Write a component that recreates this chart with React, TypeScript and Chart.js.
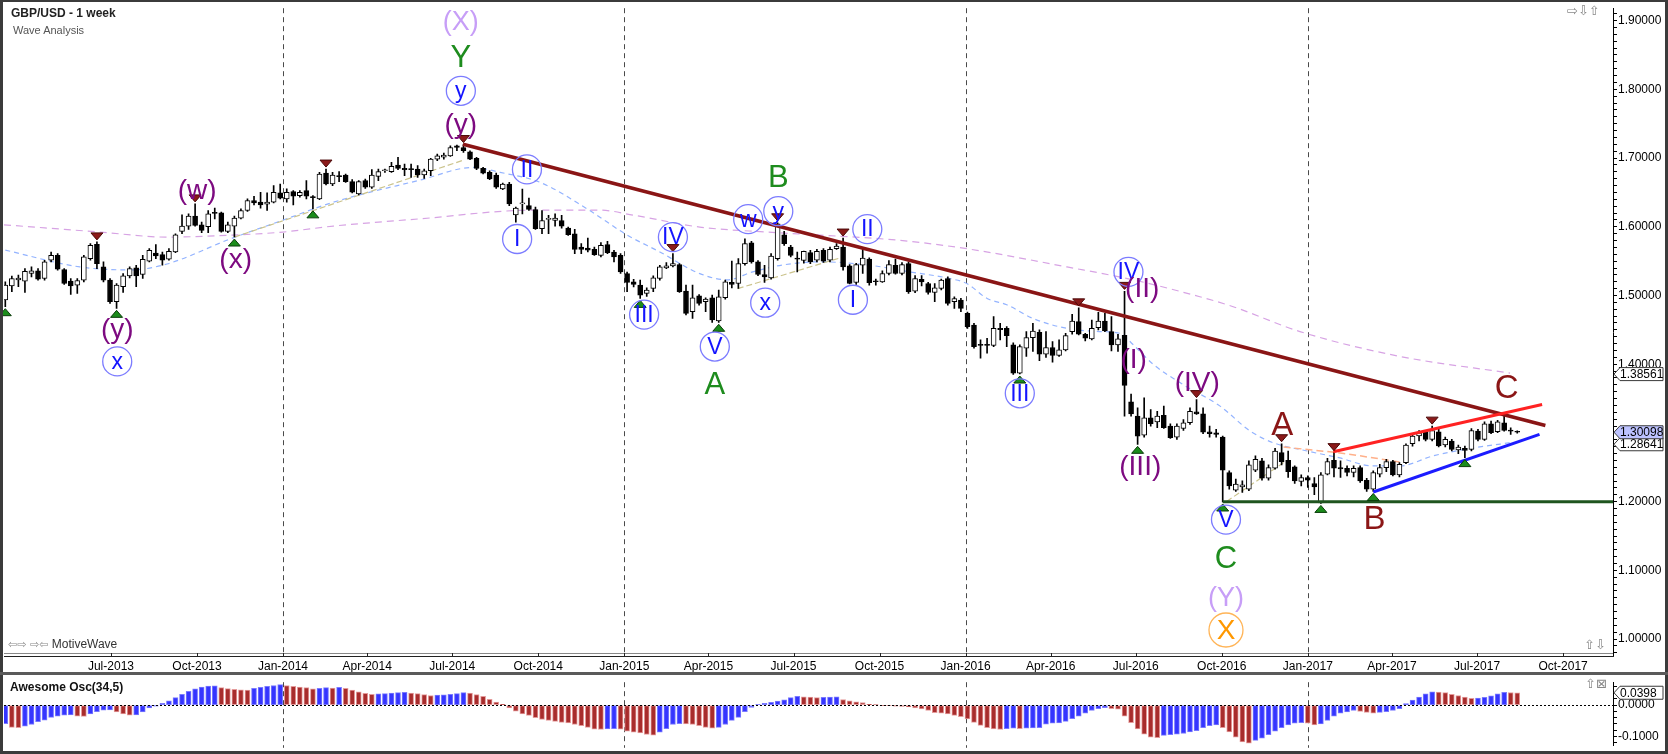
import React, { useEffect, useRef } from 'react';
import { Chart, registerables } from 'chart.js';
Chart.register(...registerables);

const FONT = '"Liberation Sans", Arial, Helvetica, sans-serif';

// ---------- weekly candles (week 0 = week starting 10 Mar 2013) ----------
const OPEN = [
  1.4934, 1.5141, 1.5228, 1.5209, 1.5320, 1.5358, 1.5247, 1.5513, 1.5585, 1.5378,
  1.5209, 1.5151, 1.5223, 1.5537, 1.5745, 1.5416, 1.5223, 1.4910, 1.5127, 1.5286,
  1.5402, 1.5305, 1.5498, 1.5619, 1.5595, 1.5527, 1.5633, 1.5933, 1.6010, 1.6155,
  1.6029, 1.6001, 1.6203, 1.6203, 1.5933, 1.6010, 1.6126, 1.6237, 1.6382, 1.6358,
  1.6329, 1.6358, 1.6493, 1.6406, 1.6512, 1.6454, 1.6527, 1.6430, 1.6406, 1.6782,
  1.6623, 1.6739, 1.6753, 1.6657, 1.6478, 1.6671, 1.6575, 1.6734, 1.6816, 1.6802,
  1.6898, 1.6850, 1.6845, 1.6840, 1.6753, 1.6816, 1.6985, 1.7014, 1.7033, 1.7178,
  1.7154, 1.7091, 1.6995, 1.6850, 1.6792, 1.6753, 1.6551, 1.6623, 1.6174, 1.6333,
  1.6309, 1.6251, 1.5971, 1.6107, 1.6092, 1.6092, 1.5981, 1.5899, 1.5706, 1.5691,
  1.5672, 1.5585, 1.5740, 1.5633, 1.5585, 1.5319, 1.5199, 1.5150, 1.5030, 1.5102,
  1.5247, 1.5401, 1.5430, 1.5450, 1.5064, 1.4764, 1.4996, 1.4909, 1.4967, 1.4630,
  1.4967, 1.5190, 1.5175, 1.5465, 1.5768, 1.5489, 1.5305, 1.5257, 1.5537, 1.5884,
  1.5706, 1.5546, 1.5512, 1.5624, 1.5513, 1.5657, 1.5513, 1.5682, 1.5706, 1.5431,
  1.5189, 1.5440, 1.5530, 1.5210, 1.5199, 1.5320, 1.5440, 1.5320, 1.5464, 1.5064,
  1.5237, 1.5175, 1.5044, 1.5102, 1.5247, 1.4909, 1.4933, 1.4740, 1.4571, 1.4291,
  1.4291, 1.4272, 1.4523, 1.4523, 1.4281, 1.3871, 1.4233, 1.4387, 1.4465, 1.4146,
  1.4243, 1.4127, 1.4209, 1.4475, 1.4620, 1.4436, 1.4368, 1.4533, 1.4629, 1.4475,
  1.4281, 1.4420, 1.3451, 1.3244, 1.2968, 1.3220, 1.3162, 1.3258, 1.3099, 1.2940,
  1.3065, 1.3148, 1.3307, 1.3278, 1.3017, 1.3003, 1.2940, 1.2423, 1.2167, 1.2216,
  1.2182, 1.2457, 1.2593, 1.2341, 1.2486, 1.2713, 1.2602, 1.2505, 1.2293, 1.2351,
  1.2264, 1.1983, 1.2400, 1.2602, 1.2496, 1.2486, 1.2424, 1.2496, 1.2312, 1.2182,
  1.2400, 1.2496, 1.2583, 1.2390, 1.2568, 1.2843, 1.2955, 1.3017, 1.2906, 1.3017,
  1.2824, 1.2882, 1.2752, 1.2776, 1.2761, 1.3027, 1.2906, 1.3133, 1.3017, 1.3148,
  1.3036, 1.3015,
];
const HIGH = [
  1.5199, 1.5281, 1.5296, 1.5392, 1.5416, 1.5392, 1.5513, 1.5633, 1.5609, 1.5392,
  1.5247, 1.5247, 1.5585, 1.5754, 1.5780, 1.5489, 1.5247, 1.5175, 1.5320, 1.5416,
  1.5440, 1.5585, 1.5682, 1.5740, 1.5633, 1.5682, 1.5899, 1.6174, 1.6189, 1.6333,
  1.6068, 1.6237, 1.6271, 1.6213, 1.6068, 1.6155, 1.6261, 1.6406, 1.6445, 1.6502,
  1.6493, 1.6599, 1.6623, 1.6551, 1.6527, 1.6527, 1.6671, 1.6454, 1.6792, 1.6840,
  1.6792, 1.6802, 1.6768, 1.6686, 1.6671, 1.6695, 1.6831, 1.6840, 1.6840, 1.6937,
  1.7009, 1.6913, 1.6913, 1.6889, 1.6840, 1.6995, 1.7057, 1.7072, 1.7178, 1.7188,
  1.7197, 1.7106, 1.7009, 1.6864, 1.6816, 1.6782, 1.6637, 1.6647, 1.6285, 1.6550,
  1.6416, 1.6285, 1.6237, 1.6165, 1.6189, 1.6165, 1.5996, 1.5962, 1.5754, 1.5836,
  1.5706, 1.5769, 1.5788, 1.5657, 1.5610, 1.5340, 1.5237, 1.5223, 1.5112, 1.5286,
  1.5440, 1.5479, 1.5610, 1.5464, 1.5150, 1.5150, 1.5015, 1.4967, 1.5006, 1.5078,
  1.5223, 1.5500, 1.5537, 1.5826, 1.5790, 1.5510, 1.5440, 1.5609, 1.6058, 1.5933,
  1.5730, 1.5633, 1.5648, 1.5657, 1.5672, 1.5682, 1.5706, 1.5754, 1.5836, 1.5450,
  1.5470, 1.5672, 1.5550, 1.5240, 1.5360, 1.5510, 1.5530, 1.5480, 1.5490, 1.5290,
  1.5290, 1.5190, 1.5175, 1.5240, 1.5270, 1.4981, 1.4960, 1.4760, 1.4595, 1.4354,
  1.4378, 1.4692, 1.4595, 1.4547, 1.4310, 1.4281, 1.4475, 1.4595, 1.4500, 1.4475,
  1.4330, 1.4354, 1.4450, 1.4726, 1.4820, 1.4450, 1.4644, 1.4755, 1.4740, 1.4692,
  1.4436, 1.5060, 1.3567, 1.3365, 1.3510, 1.3340, 1.3316, 1.3389, 1.3133, 1.3133,
  1.3196, 1.3365, 1.3485, 1.3365, 1.3099, 1.3051, 1.2954, 1.2447, 1.2327, 1.2303,
  1.2593, 1.2665, 1.2631, 1.2535, 1.2776, 1.2843, 1.2737, 1.2520, 1.2390, 1.2375,
  1.2351, 1.2423, 1.2631, 1.2713, 1.2593, 1.2520, 1.2520, 1.2520, 1.2341, 1.2448,
  1.2544, 1.2617, 1.2602, 1.2568, 1.2843, 1.2988, 1.3036, 1.3036, 1.3099, 1.3051,
  1.2940, 1.2906, 1.2824, 1.2810, 1.3065, 1.3051, 1.3162, 1.3172, 1.3182, 1.3268,
  1.3075, 1.3030,
];
const LOW = [
  1.4837, 1.5054, 1.5127, 1.5045, 1.5271, 1.5223, 1.5223, 1.5489, 1.5368, 1.5160,
  1.5016, 1.5030, 1.5199, 1.5513, 1.5392, 1.5199, 1.4885, 1.4813, 1.5045, 1.5257,
  1.5127, 1.5247, 1.5489, 1.5537, 1.5440, 1.5513, 1.5624, 1.5899, 1.5962, 1.6010,
  1.5914, 1.5914, 1.6116, 1.5923, 1.5914, 1.5851, 1.6116, 1.6223, 1.6319, 1.6271,
  1.6237, 1.6348, 1.6406, 1.6358, 1.6319, 1.6430, 1.6406, 1.6261, 1.6396, 1.6609,
  1.6599, 1.6657, 1.6647, 1.6493, 1.6464, 1.6560, 1.6560, 1.6671, 1.6792, 1.6792,
  1.6831, 1.6744, 1.6719, 1.6719, 1.6705, 1.6744, 1.6961, 1.6985, 1.7024, 1.7106,
  1.7081, 1.6975, 1.6831, 1.6768, 1.6686, 1.6560, 1.6541, 1.6309, 1.6068, 1.6189,
  1.6237, 1.5962, 1.5899, 1.5899, 1.6010, 1.5981, 1.5875, 1.5609, 1.5609, 1.5633,
  1.5585, 1.5561, 1.5609, 1.5489, 1.5320, 1.5054, 1.5126, 1.4958, 1.4985, 1.5054,
  1.5223, 1.5392, 1.5416, 1.5044, 1.4716, 1.4668, 1.4861, 1.4764, 1.4610, 1.4610,
  1.4948, 1.5110, 1.5102, 1.5440, 1.5470, 1.5290, 1.5189, 1.5237, 1.5513, 1.5730,
  1.5561, 1.5344, 1.5470, 1.5465, 1.5489, 1.5480, 1.5489, 1.5672, 1.5368, 1.5170,
  1.5160, 1.5320, 1.5150, 1.5150, 1.5190, 1.5300, 1.5310, 1.5300, 1.5030, 1.5040,
  1.5140, 1.5020, 1.4909, 1.5080, 1.4860, 1.4813, 1.4765, 1.4520, 1.4233, 1.4088,
  1.4161, 1.4257, 1.4354, 1.4257, 1.3850, 1.3857, 1.4112, 1.4185, 1.4050, 1.4098,
  1.4030, 1.4112, 1.4195, 1.4436, 1.4425, 1.4340, 1.4354, 1.4500, 1.4475, 1.4195,
  1.4185, 1.3244, 1.3244, 1.2834, 1.2940, 1.3100, 1.3075, 1.3065, 1.2920, 1.2906,
  1.3036, 1.3123, 1.3268, 1.2989, 1.2940, 1.2940, 1.1995, 1.2182, 1.2148, 1.2134,
  1.2158, 1.2438, 1.2312, 1.2312, 1.2472, 1.2535, 1.2351, 1.2264, 1.2230, 1.2206,
  1.2100, 1.1974, 1.2390, 1.2361, 1.2351, 1.2375, 1.2361, 1.2279, 1.2148, 1.2148,
  1.2361, 1.2438, 1.2375, 1.2361, 1.2554, 1.2809, 1.2882, 1.2882, 1.2882, 1.2795,
  1.2795, 1.2737, 1.2699, 1.2641, 1.2737, 1.2882, 1.2892, 1.2988, 1.3003, 1.3027,
  1.2979, 1.2995,
];
const CLOSE = [
  1.5151, 1.5247, 1.5252, 1.5353, 1.5358, 1.5237, 1.5489, 1.5585, 1.5382, 1.5175,
  1.5141, 1.5218, 1.5561, 1.5730, 1.5465, 1.5223, 1.4910, 1.5151, 1.5286, 1.5392,
  1.5286, 1.5527, 1.5657, 1.5576, 1.5513, 1.5643, 1.5884, 1.6010, 1.6155, 1.6020,
  1.5947, 1.6189, 1.6195, 1.5933, 1.6029, 1.6126, 1.6237, 1.6382, 1.6348, 1.6319,
  1.6358, 1.6502, 1.6416, 1.6502, 1.6445, 1.6502, 1.6445, 1.6425, 1.6768, 1.6623,
  1.6753, 1.6729, 1.6657, 1.6502, 1.6657, 1.6575, 1.6753, 1.6802, 1.6820, 1.6879,
  1.6850, 1.6831, 1.6831, 1.6753, 1.6816, 1.6985, 1.7033, 1.7043, 1.7154, 1.7154,
  1.7106, 1.6985, 1.6850, 1.6782, 1.6695, 1.6575, 1.6623, 1.6333, 1.6271, 1.6338,
  1.6251, 1.5971, 1.6092, 1.6116, 1.6126, 1.6010, 1.5884, 1.5672, 1.5672, 1.5658,
  1.5595, 1.5730, 1.5624, 1.5561, 1.5344, 1.5189, 1.5160, 1.5006, 1.5078, 1.5257,
  1.5416, 1.5430, 1.5464, 1.5054, 1.4740, 1.4967, 1.4885, 1.4947, 1.4644, 1.4982,
  1.5199, 1.5160, 1.5465, 1.5754, 1.5489, 1.5305, 1.5271, 1.5575, 1.6044, 1.5754,
  1.5585, 1.5527, 1.5643, 1.5488, 1.5643, 1.5498, 1.5672, 1.5720, 1.5416, 1.5175,
  1.5450, 1.5546, 1.5185, 1.5200, 1.5320, 1.5450, 1.5320, 1.5450, 1.5054, 1.5247,
  1.5199, 1.5044, 1.5112, 1.5223, 1.4885, 1.4957, 1.4813, 1.4548, 1.4257, 1.4272,
  1.4272, 1.4523, 1.4504, 1.4417, 1.3871, 1.4257, 1.4387, 1.4484, 1.4146, 1.4243,
  1.4127, 1.4209, 1.4417, 1.4629, 1.4436, 1.4378, 1.4523, 1.4629, 1.4484, 1.4281,
  1.4368, 1.3693, 1.3278, 1.2954, 1.3220, 1.3133, 1.3244, 1.3075, 1.2930, 1.3099,
  1.3148, 1.3316, 1.3278, 1.3010, 1.2988, 1.2979, 1.2457, 1.2230, 1.2254, 1.2245,
  1.2535, 1.2617, 1.2341, 1.2496, 1.2737, 1.2583, 1.2438, 1.2303, 1.2351, 1.2312,
  1.2216, 1.2389, 1.2584, 1.2486, 1.2476, 1.2424, 1.2486, 1.2303, 1.2182, 1.2424,
  1.2496, 1.2583, 1.2390, 1.2544, 1.2824, 1.2955, 1.3003, 1.2906, 1.3036, 1.2810,
  1.2906, 1.2761, 1.2795, 1.2747, 1.3036, 1.2906, 1.3133, 1.3003, 1.3162, 1.3036,
  1.3027, 1.3010,
];

// Awesome Oscillator (34,5), one value per week
const AO = [
  -0.059, -0.071, -0.072, -0.067, -0.062, -0.053, -0.048, -0.039, -0.035, -0.032,
  -0.031, -0.035, -0.036, -0.028, -0.021, -0.016, -0.015, -0.022, -0.028, -0.032,
  -0.031, -0.022, -0.009, -0.003, 0.006, 0.014, 0.024, 0.035, 0.044, 0.052,
  0.058, 0.061, 0.062, 0.056, 0.053, 0.051, 0.049, 0.048, 0.054, 0.057,
  0.060, 0.063, 0.066, 0.063, 0.060, 0.058, 0.056, 0.052, 0.054, 0.056,
  0.055, 0.057, 0.054, 0.048, 0.043, 0.038, 0.035, 0.036, 0.037, 0.039,
  0.040, 0.041, 0.039, 0.037, 0.034, 0.031, 0.032, 0.033, 0.035, 0.037,
  0.040, 0.039, 0.034, 0.028, 0.019, 0.010, 0.003, -0.009, -0.019, -0.028,
  -0.033, -0.040, -0.046, -0.049, -0.052, -0.055, -0.057, -0.062, -0.066, -0.071,
  -0.077, -0.078, -0.076, -0.075, -0.077, -0.083, -0.087, -0.089, -0.094, -0.096,
  -0.087, -0.075, -0.062, -0.059, -0.060, -0.062, -0.066, -0.071, -0.074, -0.071,
  -0.062, -0.049, -0.039, -0.021, -0.007, 0.002, 0.006, 0.009, 0.013, 0.017,
  0.024, 0.028, 0.027, 0.026, 0.024, 0.025, 0.026, 0.027, 0.018, 0.014,
  0.011, 0.008, 0.003, 0.001, -0.001, -0.002, -0.003, -0.004, -0.006, -0.009,
  -0.012, -0.017, -0.024, -0.026, -0.028, -0.033, -0.037, -0.044, -0.055, -0.065,
  -0.072, -0.076, -0.078, -0.075, -0.074, -0.075, -0.074, -0.073, -0.072, -0.061,
  -0.058, -0.057, -0.052, -0.043, -0.035, -0.026, -0.017, -0.011, -0.008, -0.011,
  -0.013, -0.035, -0.056, -0.076, -0.093, -0.103, -0.104, -0.097, -0.095, -0.093,
  -0.091, -0.086, -0.082, -0.072, -0.066, -0.063, -0.072, -0.086, -0.103, -0.118,
  -0.122, -0.113, -0.106, -0.095, -0.083, -0.072, -0.063, -0.058, -0.056, -0.058,
  -0.063, -0.060, -0.049, -0.035, -0.026, -0.022, -0.017, -0.020, -0.023, -0.026,
  -0.023, -0.021, -0.017, -0.011, 0.005, 0.016, 0.026, 0.036, 0.0425, 0.042,
  0.040, 0.035, 0.031, 0.026, 0.022, 0.023, 0.025, 0.030, 0.036, 0.041,
  0.0405, 0.0398,
];

// moving averages: [week, price]
const MA_FAST = [
  [0, 1.566], [11.4, 1.5416], [19.1, 1.5372], [24.7, 1.5459], [34.3, 1.5821], [42.4, 1.6096],
  [50.1, 1.6357], [63.4, 1.668], [71.5, 1.6864], [75.6, 1.6792], [81.7, 1.6647], [88.9, 1.626],
  [95, 1.588], [100, 1.5634], [106.1, 1.5319], [110.3, 1.5228], [114.2, 1.5344], [118.8, 1.5445],
  [124.5, 1.549], [131.7, 1.5445], [138.2, 1.5344], [144.3, 1.5247], [146.9, 1.5174], [150, 1.4957],
  [153, 1.4866], [157, 1.4667], [162.2, 1.4522], [167.3, 1.4475], [170.3, 1.445], [172.3, 1.4286],
  [175.4, 1.3997], [179.9, 1.3707], [185.6, 1.339], [190.2, 1.3027], [193.7, 1.2858], [198.9, 1.2737],
  [203.9, 1.2636], [208.9, 1.252], [213.1, 1.252], [218.1, 1.2665], [223.3, 1.2766], [228.4, 1.2838],
  [230.4, 1.2864],
];
const MA_SLOW = [
  [-0.2, 1.6029], [14.5, 1.5923], [24.7, 1.585], [34.8, 1.5879], [42.4, 1.5923], [50.1, 1.601],
  [63.4, 1.6116], [80.6, 1.6242], [90.9, 1.6242], [95.9, 1.617], [106.1, 1.5996], [116.4, 1.5923],
  [124.5, 1.5879], [136.7, 1.5802], [146.9, 1.5681], [162.2, 1.5416], [172.3, 1.5228], [182.5, 1.4982],
  [187.6, 1.4837], [197.8, 1.4475], [213.1, 1.4113], [229.9, 1.3871],
];

// trend lines: [[week, price], [week, price]]
const LINE_MAIN_DOWN = [[69.93, 1.7202], [235.3, 1.3108]];
const LINE_RED_UP = [[202.9, 1.2727], [234.8, 1.3414]];
const LINE_BLUE_UP = [[209.0, 1.2140], [234.4, 1.2980]];
const LINE_SUPPORT = [[186.0, 1.2000], [247, 1.2000]];
const LINE_TAN_1 = [[35.0, 1.585], [70.0, 1.697]];
const LINE_TAN_2 = [[111.9, 1.510], [128.0, 1.556]];
const LINE_TAN_3 = [[186.6, 1.2003], [195.3, 1.2568]];
const LINE_PEACH = [[195.3, 1.2795], [204.5, 1.2700], [213.6, 1.2568]];

const SWING_HIGHS = [14, 29, 49, 70, 102, 118, 128, 164, 171, 182, 195, 203, 218];
const SWING_LOWS = [0, 17, 35, 47, 97, 109, 155, 173, 186, 201, 209, 223];

// wave labels: [week, price, text, style]
const WAVE_LABELS = [
  [69.6, 1.8993, '(X)', 'lilac'], [69.6, 1.8471, 'Y', 'green'], [69.6, 1.7979, 'y', 'ring'],
  [69.6, 1.7487, '(y)', 'purple'], [29.3, 1.6531, '(w)', 'purple'], [35.2, 1.5532, '(x)', 'purple'],
  [17.1, 1.4504, '(y)', 'purple'], [17.1, 1.4041, 'x', 'ring'], [79.7, 1.6835, 'II', 'ring'],
  [78.2, 1.5822, 'I', 'ring'], [97.6, 1.4722, 'III', 'ring'], [102.0, 1.5850, 'IV', 'ring'],
  [108.4, 1.4257, 'V', 'ring'], [108.4, 1.3707, 'A', 'green'], [118.1, 1.6719, 'B', 'green'],
  [113.5, 1.6111, 'w', 'ring'], [118.1, 1.6227, 'y', 'ring'], [116.1, 1.4895, 'x', 'ring'],
  [129.5, 1.4938, 'I', 'ring'], [131.7, 1.5966, 'II', 'ring'], [155.0, 1.3577, 'III', 'ring'],
  [171.6, 1.5344, 'IV', 'ring'], [173.7, 1.5098, '(II)', 'purple'], [172.4, 1.4068, '(I)', 'purple'],
  [173.4, 1.2520, '(III)', 'purple'], [182.1, 1.3740, '(IV)', 'purple'], [186.5, 1.1739, 'V', 'ring'],
  [186.5, 1.1174, 'C', 'green'], [186.5, 1.0610, '(Y)', 'lilac'], [186.5, 1.0132, 'X', 'ringOrange'],
  [195.1, 1.3124, 'A', 'maroon'], [209.2, 1.1749, 'B', 'maroon'], [229.4, 1.3654, 'C', 'maroon'],
];

const TICK_LABELS = [
  'Jul-2013', 'Oct-2013', 'Jan-2014', 'Apr-2014', 'Jul-2014', 'Oct-2014', 'Jan-2015', 'Apr-2015',
  'Jul-2015', 'Oct-2015', 'Jan-2016', 'Apr-2016', 'Jul-2016', 'Oct-2016', 'Jan-2017', 'Apr-2017',
  'Jul-2017', 'Oct-2017',
];
const LAST_PRICE = 1.30098;
const FAST_LAST = 1.28641;
const SLOW_LAST = 1.38561;
const AO_LAST = 0.0398;

// ---------- styles / geometry ----------
const LABEL_STYLE: any = {
  lilac: { color: '#c79ef7', size: 27 },
  green: { color: '#1e8c1e', size: 31 },
  purple: { color: '#7d0a80', size: 28 },
  maroon: { color: '#8b1616', size: 33 },
  ring: { color: '#1414ff', size: 23, ring: '#7c7cff', r: 14.5 },
  ringOrange: { color: '#ff9800', size: 28, ring: '#ffb457', r: 17 },
};
const MONTH_INDEX: any = { Jan: 0, Apr: 3, Jul: 6, Oct: 9 };
const FIRST_WEEK = Date.UTC(2013, 2, 10);
const WEEK_MS = 7 * 86400000;
const TICK_POS = TICK_LABELS.map((l) => {
  const [m, y] = l.split('-');
  return (Date.UTC(+y, MONTH_INDEX[m], 1) - FIRST_WEEK) / WEEK_MS;
});
const YEAR_POS = TICK_POS.filter((_, k) => TICK_LABELS[k].startsWith('Jan'));

const X_MIN = -0.1986;
const X_MAX = 245.63;
const P_MIN = 0.97538;
const P_MAX = 1.9181;
const AO_MIN = -0.1303;
const AO_MAX = 0.0736;

const pts = (arr: number[][]) => arr.map(([x, y]) => ({ x, y }));

function drawTag(ctx: any, axisX: number, y: number, text: string, fill: string) {
  const right = axisX + 50;
  const h = 13;
  ctx.save();
  ctx.beginPath();
  ctx.moveTo(axisX + 1, y);
  ctx.lineTo(axisX + 7, y - h / 2);
  ctx.lineTo(right, y - h / 2);
  ctx.lineTo(right, y + h / 2);
  ctx.lineTo(axisX + 7, y + h / 2);
  ctx.closePath();
  ctx.fillStyle = fill;
  ctx.fill();
  ctx.strokeStyle = '#3a3a3a';
  ctx.lineWidth = 1;
  ctx.stroke();
  ctx.fillStyle = '#000';
  ctx.font = `12px ${FONT}`;
  ctx.textAlign = 'left';
  ctx.textBaseline = 'middle';
  ctx.fillText(text, axisX + 7, y + 0.5);
  ctx.restore();
}

function drawYearLines(chart: any, extraBottom: number) {
  const { ctx, chartArea: a, scales } = chart;
  ctx.save();
  ctx.strokeStyle = '#4a4a4a';
  ctx.lineWidth = 1;
  ctx.setLineDash([5, 4]);
  YEAR_POS.forEach((v) => {
    const px = Math.round(scales.x.getPixelForValue(v)) + 0.5;
    ctx.beginPath();
    ctx.moveTo(px, a.top);
    ctx.lineTo(px, a.bottom + extraBottom);
    ctx.stroke();
  });
  ctx.restore();
}

const priceOverlay = {
  id: 'priceOverlay',
  beforeDatasetsDraw(chart: any) {
    drawYearLines(chart, 0);
  },
  afterDatasetsDraw(chart: any) {
    const { ctx, scales } = chart;
    const xs = scales.x;
    const ys = scales.y;
    ctx.save();
    SWING_HIGHS.forEach((i) => {
      const x = xs.getPixelForValue(i);
      const y = ys.getPixelForValue(HIGH[i]) - 2;
      ctx.beginPath();
      ctx.moveTo(x, y);
      ctx.lineTo(x - 6, y - 7);
      ctx.lineTo(x + 6, y - 7);
      ctx.closePath();
      ctx.fillStyle = '#8b1a1a';
      ctx.fill();
      ctx.strokeStyle = '#4a0808';
      ctx.lineWidth = 1;
      ctx.stroke();
    });
    SWING_LOWS.forEach((i) => {
      const x = xs.getPixelForValue(i);
      const y = ys.getPixelForValue(LOW[i]) + 2;
      ctx.beginPath();
      ctx.moveTo(x, y);
      ctx.lineTo(x - 6, y + 7);
      ctx.lineTo(x + 6, y + 7);
      ctx.closePath();
      ctx.fillStyle = '#1b8c1b';
      ctx.fill();
      ctx.strokeStyle = '#0b3d0b';
      ctx.lineWidth = 1;
      ctx.stroke();
    });
    WAVE_LABELS.forEach(([i, p, text, style]: any) => {
      const st = LABEL_STYLE[style];
      const x = xs.getPixelForValue(i);
      const y = ys.getPixelForValue(p);
      if (st.ring) {
        ctx.beginPath();
        ctx.arc(x, y, st.r, 0, Math.PI * 2);
        ctx.strokeStyle = st.ring;
        ctx.lineWidth = 1.3;
        ctx.stroke();
      }
      ctx.fillStyle = st.color;
      ctx.font = `${st.size}px ${FONT}`;
      ctx.textAlign = 'center';
      ctx.textBaseline = 'middle';
      ctx.fillText(text, x, y + 1);
    });
    ctx.restore();
  },
  afterDraw(chart: any) {
    const { ctx, chartArea: a, scales } = chart;
    ctx.save();
    ctx.fillStyle = '#888';
    ctx.fillRect(a.left, a.bottom - 3, a.right - a.left, 1);
    ctx.fillStyle = '#222';
    ctx.fillRect(a.left, a.bottom, a.right - a.left + 1, 1);
    TICK_POS.forEach((v) => {
      const px = Math.round(scales.x.getPixelForValue(v));
      ctx.fillRect(px, a.bottom - 3, 1, 4);
    });
    ctx.restore();
    const axisX = a.right;
    drawTag(ctx, axisX, scales.y.getPixelForValue(SLOW_LAST), SLOW_LAST.toFixed(5), '#ffffff');
    const yLast = scales.y.getPixelForValue(LAST_PRICE);
    const yFast = Math.max(scales.y.getPixelForValue(FAST_LAST), yLast + 12);
    drawTag(ctx, axisX, yFast, FAST_LAST.toFixed(5), '#ffffff');
    drawTag(ctx, axisX, yLast, LAST_PRICE.toFixed(5), '#bcc2ff');
  },
};

const oscOverlay = {
  id: 'oscOverlay',
  beforeDatasetsDraw(chart: any) {
    drawYearLines(chart, 2);
  },
  afterDatasetsDraw(chart: any) {
    const { ctx, chartArea: a, scales } = chart;
    const y0 = Math.round(scales.y.getPixelForValue(0)) + 0.5;
    ctx.save();
    ctx.strokeStyle = '#000';
    ctx.lineWidth = 1;
    ctx.setLineDash([2, 2]);
    ctx.beginPath();
    ctx.moveTo(a.left, y0);
    ctx.lineTo(a.right, y0);
    ctx.stroke();
    ctx.restore();
  },
  afterDraw(chart: any) {
    const { ctx, chartArea: a, scales } = chart;
    drawTag(ctx, a.right, scales.y.getPixelForValue(AO_LAST), AO_LAST.toFixed(4), '#ffffff');
  },
};

export default function App() {
  const priceRef = useRef<HTMLCanvasElement>(null);
  const oscRef = useRef<HTMLCanvasElement>(null);

  useEffect(() => {
    Chart.defaults.font.family = FONT;
    Chart.defaults.font.size = 12;
    Chart.defaults.color = '#000';

    const idx = CLOSE.map((_, i) => i);
    const wicks = idx.map((i) => ({ x: i, y: [LOW[i], HIGH[i]] }));
    const bodies = idx.map((i) => ({ x: i, y: [Math.min(OPEN[i], CLOSE[i]), Math.max(OPEN[i], CLOSE[i])] }));
    const bodyFill = idx.map((i) => (CLOSE[i] >= OPEN[i] ? '#ffffff' : '#000000'));

    const lineDs = (data: number[][], color: string, width: number, dash: number[], order: number, tension = 0) => ({
      type: 'line',
      data: pts(data),
      borderColor: color,
      borderWidth: width,
      borderDash: dash,
      pointRadius: 0,
      tension,
      cubicInterpolationMode: tension ? 'monotone' : 'default',
      fill: false,
      order,
    });

    const price = new Chart(priceRef.current as any, {
      type: 'bar',
      data: {
        datasets: [
          lineDs(MA_SLOW, '#d7a3e4', 1.2, [7, 5], 30, 0.4),
          lineDs(MA_FAST, '#93b3ff', 1.2, [5, 4], 29, 0.4),
          lineDs(LINE_TAN_1, '#cbc38c', 1.2, [6, 3], 28),
          lineDs(LINE_TAN_2, '#cbc38c', 1.2, [6, 3], 28),
          lineDs(LINE_TAN_3, '#cbc38c', 1.2, [6, 3], 28),
          lineDs(LINE_PEACH, '#ffb08a', 1.5, [7, 4], 28, 0.3),
          {
            type: 'bar', data: wicks, backgroundColor: '#000', borderWidth: 0,
            barThickness: 1, grouped: false, order: 21,
          },
          {
            type: 'bar', data: bodies, backgroundColor: bodyFill, borderColor: '#000',
            borderWidth: 1, borderSkipped: false, barThickness: 5, grouped: false,
            minBarLength: 1, order: 20,
          },
          lineDs(LINE_SUPPORT, '#1f551f', 3, [], 4),
          lineDs(LINE_MAIN_DOWN, '#8a1515', 3.5, [], 3),
          lineDs(LINE_RED_UP, '#ff2222', 3, [], 2),
          lineDs(LINE_BLUE_UP, '#1c1cff', 3, [], 1),
        ],
      } as any,
      options: {
        animation: false,
        responsive: false,
        devicePixelRatio: 1,
        events: [],
        layout: { padding: { left: 4, right: 4, top: 5, bottom: 0 } },
        plugins: { legend: { display: false }, tooltip: { enabled: false } },
        scales: {
          x: {
            type: 'linear', min: X_MIN, max: X_MAX, offset: false,
            grid: { display: false, drawTicks: false },
            border: { display: false },
            afterBuildTicks: (s: any) => { s.ticks = TICK_POS.map((v) => ({ value: v })); },
            afterFit: (s: any) => { s.height = 18; },
            ticks: {
              autoSkip: false, maxRotation: 0, minRotation: 0, padding: 3, color: '#000',
              font: { size: 12 },
              callback: (_v: any, k: number) => TICK_LABELS[k],
            },
          },
          y: {
            type: 'linear', position: 'right', min: P_MIN, max: P_MAX,
            grid: { display: true, drawOnChartArea: false, tickLength: 4, tickColor: '#000' },
            border: { display: true, color: '#000' },
            afterBuildTicks: (s: any) => {
              const t = [];
              for (let k = 98; k <= 191; k++) t.push({ value: k / 100 });
              s.ticks = t;
            },
            afterFit: (s: any) => { s.width = 51; },
            ticks: {
              autoSkip: false, padding: 1, color: '#000', font: { size: 12 },
              callback: (v: any) => (Math.round(v * 100) % 10 === 0 ? Number(v).toFixed(5) : ''),
            },
          },
        },
      } as any,
      plugins: [priceOverlay],
    });

    const aoColors = AO.map((v, i) => (i === 0 || v > AO[i - 1] ? '#3535ff' : '#a82c2c'));
    const aoBorders = AO.map((v, i) => (i === 0 || v > AO[i - 1] ? '#7a7aff' : '#e49a9a'));
    const osc = new Chart(oscRef.current as any, {
      type: 'bar',
      data: {
        datasets: [
          {
            data: AO.map((v, i) => ({ x: i, y: v })),
            backgroundColor: aoColors,
            borderColor: aoBorders,
            borderWidth: 1,
            borderSkipped: false,
            barThickness: 5,
            grouped: false,
          },
        ],
      } as any,
      options: {
        animation: false,
        responsive: false,
        devicePixelRatio: 1,
        events: [],
        layout: { padding: { left: 4, right: 4, top: 2, bottom: 4 } },
        plugins: { legend: { display: false }, tooltip: { enabled: false } },
        scales: {
          x: { type: 'linear', min: X_MIN, max: X_MAX, offset: false, display: false },
          y: {
            type: 'linear', position: 'right', min: AO_MIN, max: AO_MAX,
            grid: { display: true, drawOnChartArea: false, tickLength: 4, tickColor: '#000' },
            border: { display: true, color: '#000' },
            afterBuildTicks: (s: any) => {
              const t = [];
              for (let k = -6; k <= 3; k++) t.push({ value: k / 50 });
              s.ticks = t;
            },
            afterFit: (s: any) => { s.width = 51; },
            ticks: {
              autoSkip: false, padding: 1, color: '#000', font: { size: 12 },
              callback: (v: any) => {
                const k = Math.round(v * 50);
                if (k === 0) return '0.0000';
                if (k === -5) return '-0.1000';
                return '';
              },
            },
          },
        },
      } as any,
      plugins: [oscOverlay],
    });

    return () => {
      price.destroy();
      osc.destroy();
    };
  }, []);

  const bar = (style: any) => <div style={{ position: 'absolute', background: '#3b3b3b', ...style }} />;

  return (
    <div
      style={{
        position: 'absolute', left: 0, top: 0, width: 1668, height: 754, background: '#fff',
        overflow: 'hidden', fontFamily: FONT,
      }}
    >
      <canvas ref={priceRef} width={1668} height={674} style={{ position: 'absolute', left: 0, top: 0 }} />
      <canvas ref={oscRef} width={1668} height={80} style={{ position: 'absolute', left: 0, top: 674 }} />
      {bar({ left: 0, top: 0, width: 1668, height: 2 })}
      {bar({ left: 0, top: 0, width: 3, height: 754 })}
      {bar({ left: 1665, top: 0, width: 3, height: 754 })}
      {bar({ left: 0, top: 751, width: 1668, height: 3 })}
      {bar({ left: 0, top: 672, width: 1668, height: 3, background: '#5a5a5a' })}
      <div style={{ position: 'absolute', left: 11, top: 6, fontSize: 12, fontWeight: 'bold', color: '#222', whiteSpace: 'nowrap' }}>
        GBP/USD - 1 week
      </div>
      <div style={{ position: 'absolute', left: 13, top: 24, fontSize: 11, color: '#555', whiteSpace: 'nowrap' }}>
        Wave Analysis
      </div>
      <div style={{ position: 'absolute', left: 8, top: 637, fontSize: 12, color: '#333', whiteSpace: 'nowrap' }}>
        <span style={{ color: '#888', fontFamily: '"DejaVu Sans", sans-serif', fontSize: 11 }}>⇦⇨ ⇨⇦</span> MotiveWave
      </div>
      <div style={{ position: 'absolute', left: 10, top: 680, fontSize: 12, fontWeight: 'bold', color: '#111', whiteSpace: 'nowrap' }}>
        Awesome Osc(34,5)
      </div>
      <div style={{ position: 'absolute', left: 1567, top: 3, fontSize: 13, color: '#888', whiteSpace: 'nowrap', fontFamily: '"DejaVu Sans", sans-serif' }}>⇨⇩⇧</div>
      <div style={{ position: 'absolute', left: 1584, top: 637, fontSize: 13, color: '#888', whiteSpace: 'nowrap', fontFamily: '"DejaVu Sans", sans-serif' }}>⇧⇩</div>
      <div style={{ position: 'absolute', left: 1585, top: 676, fontSize: 13, color: '#888', whiteSpace: 'nowrap', fontFamily: '"DejaVu Sans", sans-serif' }}>⇧⊠</div>
    </div>
  );
}
